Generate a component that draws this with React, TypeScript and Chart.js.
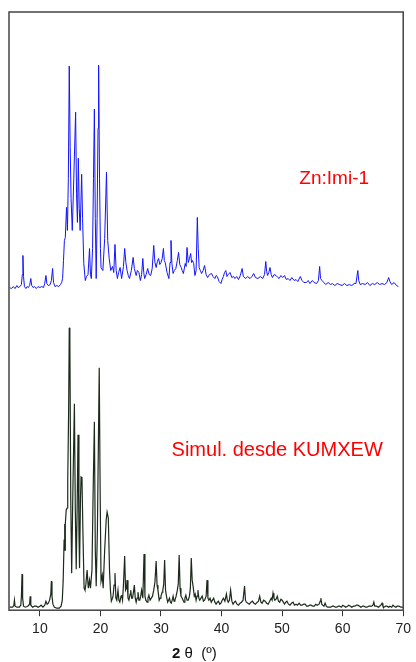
import React, { useEffect, useRef } from "react";
import { Chart, registerables } from "chart.js";

Chart.register(...registerables);

// 2θ tick labels
const thetaTicks = [10, 20, 30, 40, 50, 60, 70];

// Experimental pattern Zn:Imi-1 : [2θ, intensity above its own baseline]
const znImiPattern: [number, number][] = [
  [5.0,1],[5.3,0],[5.6,2],[5.9,0],[6.2,3],[6.4,1],[6.7,2],[6.95,4],[7.1,14],[7.2,33],[7.3,12],[7.45,2],[7.7,0],[7.9,2],[8.1,1],[8.3,3],[8.5,10],[8.65,3],[8.9,1],[9.1,2],[9.4,0],[9.7,2],[10.0,1],[10.3,2],[10.6,1],[10.8,5],[11.0,13],[11.15,5],[11.4,3],[11.7,4],[11.9,8],[12.1,20],[12.25,6],[12.5,2],[12.8,3],[13.1,2],[13.4,4],[13.6,6],[13.75,10],[13.9,28],[14.05,48],[14.2,51],[14.4,81],[14.55,58],[14.7,110],[14.85,222],[15.0,141],[15.15,90],[15.35,58],[15.6,110],[15.9,176],[16.05,95],[16.2,66],[16.35,130],[16.5,80],[16.65,58],[16.9,114],[17.05,70],[17.25,25],[17.5,8],[17.7,12],[17.95,14],[18.2,40],[18.35,14],[18.5,10],[18.7,40],[18.85,110],[19.0,179],[19.15,70],[19.3,10],[19.45,70],[19.6,160],[19.7,223],[19.85,110],[20.0,40],[20.1,21],[20.4,18],[20.7,50],[21.0,116],[21.2,48],[21.45,30],[21.7,18],[22.0,22],[22.2,16],[22.4,44],[22.6,18],[22.8,10],[23.0,16],[23.25,21],[23.5,10],[23.8,22],[24.0,40],[24.2,26],[24.4,18],[24.6,13],[24.8,10],[25.1,18],[25.4,31],[25.6,20],[25.9,13],[26.1,18],[26.35,16],[26.6,8],[26.8,14],[27.0,30],[27.15,16],[27.3,10],[27.55,14],[27.8,20],[28.05,14],[28.3,13],[28.55,20],[28.8,43],[29.0,26],[29.2,21],[29.4,27],[29.6,30],[29.8,24],[30.0,26],[30.2,30],[30.4,40],[30.55,28],[30.7,26],[31.0,16],[31.3,10],[31.5,26],[31.65,48],[31.8,25],[32.0,15],[32.2,18],[32.45,20],[32.7,28],[32.9,36],[33.1,24],[33.35,21],[33.5,18],[33.7,15],[34.0,25],[34.15,22],[34.3,41],[34.5,26],[34.7,30],[34.9,35],[35.05,26],[35.2,28],[35.4,25],[35.6,13],[35.8,18],[36.0,71],[36.15,40],[36.3,21],[36.5,18],[36.7,15],[36.95,18],[37.2,23],[37.45,14],[37.7,11],[38.0,14],[38.35,15],[38.6,12],[38.9,10],[39.1,13],[39.3,12],[39.6,7],[39.9,5],[40.1,9],[40.3,12],[40.5,16],[40.7,18],[40.9,12],[41.1,14],[41.4,16],[41.7,11],[42.0,12],[42.2,10],[42.5,12],[42.8,9],[43.1,13],[43.4,20],[43.6,12],[44.0,10],[44.3,12],[44.7,10],[45.0,12],[45.3,15],[45.6,11],[46.0,10],[46.4,12],[46.8,10],[47.1,14],[47.3,27],[47.45,17],[47.6,13],[47.8,16],[48.0,21],[48.2,14],[48.4,11],[48.7,14],[49.0,13],[49.3,11],[49.5,10],[49.8,13],[50.1,11],[50.4,13],[50.7,9],[51.0,10],[51.3,8],[51.6,11],[52.0,8],[52.3,9],[52.6,7],[53.0,12],[53.3,8],[53.6,6],[54.0,6],[54.3,8],[54.6,5],[55.0,8],[55.3,6],[55.7,5],[56.0,8],[56.2,22],[56.35,10],[56.6,8],[56.9,6],[57.2,4],[57.6,6],[58.0,4],[58.3,5],[58.7,3],[59.1,5],[59.5,4],[59.9,3],[60.3,5],[60.7,3],[61.1,4],[61.5,3],[61.9,5],[62.2,5],[62.5,18],[62.65,8],[62.9,4],[63.3,5],[63.7,4],[64.1,6],[64.5,3],[64.9,5],[65.3,4],[65.7,6],[66.1,4],[66.5,5],[66.9,4],[67.3,6],[67.6,11],[67.8,7],[68.1,4],[68.5,6],[68.9,3],[69.2,2]
];

// Vertical offset of the experimental pattern
const znImiOffset = 321;

// Simulated pattern from KUMXEW : [2θ, intensity]
const kumxewPattern: [number, number][] = [
  [5.0,3],[5.5,3],[5.7,5],[5.8,10],[5.9,4],[6.2,3],[6.6,3],[6.85,5],[6.95,14],[7.05,36],[7.15,12],[7.3,4],[7.6,3],[8.0,4],[8.3,6],[8.4,14],[8.5,5],[8.8,3],[9.1,4],[9.4,4],[9.7,3],[10.0,4],[10.2,5],[10.5,3],[10.8,5],[11.0,9],[11.2,6],[11.4,7],[11.6,10],[11.8,16],[11.9,29],[12.0,14],[12.15,6],[12.4,3],[12.8,2],[13.2,2],[13.5,4],[13.7,10],[13.85,30],[14.0,70],[14.1,86],[14.15,60],[14.2,86],[14.35,100],[14.5,102],[14.6,130],[14.75,200],[14.85,282],[14.95,270],[15.1,110],[15.25,37],[15.45,120],[15.7,206],[15.85,100],[16.0,41],[16.15,100],[16.3,175],[16.45,80],[16.55,42],[16.7,110],[16.8,133],[16.95,132],[17.1,80],[17.3,22],[17.45,20],[17.6,26],[17.8,40],[17.95,26],[18.0,22],[18.2,30],[18.35,22],[18.6,40],[18.8,120],[19.0,188],[19.15,60],[19.3,24],[19.5,80],[19.65,160],[19.8,242],[19.95,120],[20.1,29],[20.3,35],[20.45,22],[20.7,60],[20.95,90],[21.1,98],[21.3,92],[21.5,40],[21.65,20],[21.8,9],[22.0,12],[22.1,15],[22.25,25],[22.4,37],[22.55,12],[22.7,10],[22.9,20],[23.05,10],[23.2,8],[23.4,14],[23.5,15],[23.65,10],[23.8,25],[24.0,54],[24.15,20],[24.3,22],[24.4,30],[24.55,12],[24.7,10],[24.9,16],[25.0,20],[25.15,12],[25.3,12],[25.45,18],[25.6,25],[25.75,12],[25.9,8],[26.05,12],[26.2,18],[26.35,10],[26.5,10],[26.65,14],[26.8,20],[27.0,12],[27.2,56],[27.35,14],[27.5,10],[27.7,8],[27.85,12],[28.0,15],[28.2,10],[28.4,12],[28.6,14],[28.8,20],[29.0,28],[29.2,49],[29.35,25],[29.5,20],[29.7,10],[29.85,12],[30.0,14],[30.2,18],[30.3,20],[30.45,26],[30.6,50],[30.75,20],[30.9,14],[31.1,8],[31.25,10],[31.4,12],[31.55,8],[31.7,7],[31.85,10],[32.0,14],[32.15,9],[32.3,10],[32.5,14],[32.7,20],[32.85,26],[33.0,55],[33.15,22],[33.3,14],[33.5,12],[33.65,10],[33.8,8],[33.95,12],[34.1,15],[34.3,10],[34.5,10],[34.7,14],[34.85,22],[35.0,52],[35.15,30],[35.3,24],[35.5,14],[35.65,16],[35.8,10],[35.95,14],[36.1,20],[36.25,12],[36.4,10],[36.6,12],[36.8,14],[37.0,9],[37.2,10],[37.45,14],[37.6,30],[37.75,12],[37.9,10],[38.1,12],[38.3,8],[38.5,10],[38.7,12],[38.9,8],[39.1,6],[39.3,8],[39.5,9],[39.7,6],[39.9,7],[40.1,10],[40.3,12],[40.55,9],[40.8,16],[40.95,10],[41.1,8],[41.3,10],[41.5,20],[41.7,9],[41.9,6],[42.1,8],[42.3,9],[42.55,6],[42.8,5],[43.05,7],[43.3,8],[43.55,10],[43.8,24],[43.95,10],[44.1,8],[44.35,7],[44.6,6],[44.85,8],[45.1,9],[45.35,7],[45.6,6],[45.9,8],[46.1,9],[46.3,14],[46.5,8],[46.7,7],[46.95,10],[47.2,9],[47.45,7],[47.7,6],[47.95,9],[48.2,12],[48.35,10],[48.5,17],[48.65,12],[48.8,10],[49.0,11],[49.2,14],[49.4,9],[49.6,8],[49.8,11],[50.0,10],[50.2,8],[50.4,6],[50.6,8],[50.8,9],[51.05,6],[51.3,5],[51.55,7],[51.8,8],[52.05,5],[52.3,6],[52.55,5],[52.8,7],[53.05,5],[53.3,5],[53.55,6],[53.8,6],[54.05,4],[54.3,4],[54.55,5],[54.8,5],[55.05,4],[55.3,4],[55.55,6],[55.8,5],[56.1,6],[56.3,9],[56.4,12],[56.55,6],[56.7,5],[56.9,4],[57.1,7],[57.3,4],[57.5,3],[57.8,3],[58.0,3],[58.3,4],[58.5,4],[58.8,3],[59.0,3],[59.3,4],[59.5,4],[59.8,3],[60.0,5],[60.3,4],[60.5,3],[60.8,4],[61.0,5],[61.3,4],[61.5,3],[61.8,4],[62.0,4],[62.3,5],[62.5,5],[62.8,4],[63.0,3],[63.3,4],[63.5,4],[63.8,3],[64.0,3],[64.3,4],[64.5,4],[64.8,4],[65.0,5],[65.15,8],[65.3,4],[65.6,4],[65.9,3],[66.1,4],[66.3,5],[66.5,7],[66.65,4],[66.8,3],[67.1,4],[67.3,4],[67.6,3],[67.8,4],[68.1,3],[68.3,5],[68.5,4],[68.8,3],[69.0,4],[69.3,4],[69.6,3],[70.0,3]
];

const labelZnImi = "Zn:Imi-1";
const labelSimul = "Simul. desde KUMXEW";
const FONT = '"Liberation Sans", Arial, Helvetica, sans-serif';

export default function App() {
  const canvasRef = useRef<HTMLCanvasElement | null>(null);

  useEffect(() => {
    if (!canvasRef.current) return;

    const overlay = {
      id: "overlay",
      afterDraw(chart: any) {
        const { ctx, chartArea: a, scales } = chart;
        const xs = scales.x;
        const ys = scales.y;
        ctx.save();
        // frame
        ctx.strokeStyle = "#444444";
        ctx.lineWidth = 1.5;
        ctx.strokeRect(a.left, a.top, a.right - a.left, a.bottom - a.top);
        // series labels
        ctx.fillStyle = "#ff0000";
        ctx.textBaseline = "alphabetic";
        ctx.textAlign = "left";
        ctx.font = `19px ${FONT}`;
        ctx.fillText(labelZnImi, xs.getPixelForValue(52.85), ys.getPixelForValue(425));
        ctx.font = `20px ${FONT}`;
        ctx.fillText(labelSimul, xs.getPixelForValue(31.75), ys.getPixelForValue(154));
        // axis title: bold "2", then " θ  (º)"
        const base = 658;
        ctx.fillStyle = "#111111";
        ctx.font = `bold 15px ${FONT}`;
        const startX = 172;
        ctx.fillText("2", startX, base);
        const w2 = ctx.measureText("2").width;
        ctx.font = `15px ${FONT}`;
        ctx.fillText(" θ  (º)", startX + w2, base);
        ctx.restore();
      },
    };

    const chart = new Chart(canvasRef.current, {
      type: "line",
      data: {
        datasets: [
          {
            label: labelZnImi,
            data: znImiPattern.map(([x, y]) => ({ x, y: y + znImiOffset })),
            borderColor: "#1414ff",
            borderWidth: 1,
            pointRadius: 0,
            tension: 0,
            fill: false,
          },
          {
            label: labelSimul,
            data: kumxewPattern.map(([x, y]) => ({ x, y })),
            borderColor: "#1b2a1b",
            borderWidth: 1.2,
            pointRadius: 0,
            tension: 0,
            fill: false,
          },
        ],
      },
      options: {
        animation: false,
        responsive: true,
        maintainAspectRatio: false,
        layout: { padding: { left: 9, right: 9, top: 12, bottom: 19 } },
        plugins: {
          legend: { display: false },
          tooltip: { enabled: false },
        },
        scales: {
          x: {
            type: "linear",
            min: 4.9,
            max: 70,
            afterBuildTicks: (scale: any) => {
              scale.ticks = thetaTicks.map((v) => ({ value: v }));
            },
            ticks: {
              autoSkip: false,
              maxRotation: 0,
              padding: 5,
              color: "#222222",
              font: { family: FONT, size: 14 },
            },
            grid: {
              drawOnChartArea: false,
              drawTicks: true,
              tickLength: 6,
              color: "#333333",
              lineWidth: 1,
            },
            border: { display: false },
          },
          y: {
            type: "linear",
            display: false,
            min: 0,
            max: 597,
          },
        },
      },
      plugins: [overlay],
    });

    return () => chart.destroy();
  }, []);

  return (
    <div style={{ position: "absolute", left: 0, top: 0, width: 416, height: 662, background: "#ffffff" }}>
      <canvas ref={canvasRef} />
    </div>
  );
}
